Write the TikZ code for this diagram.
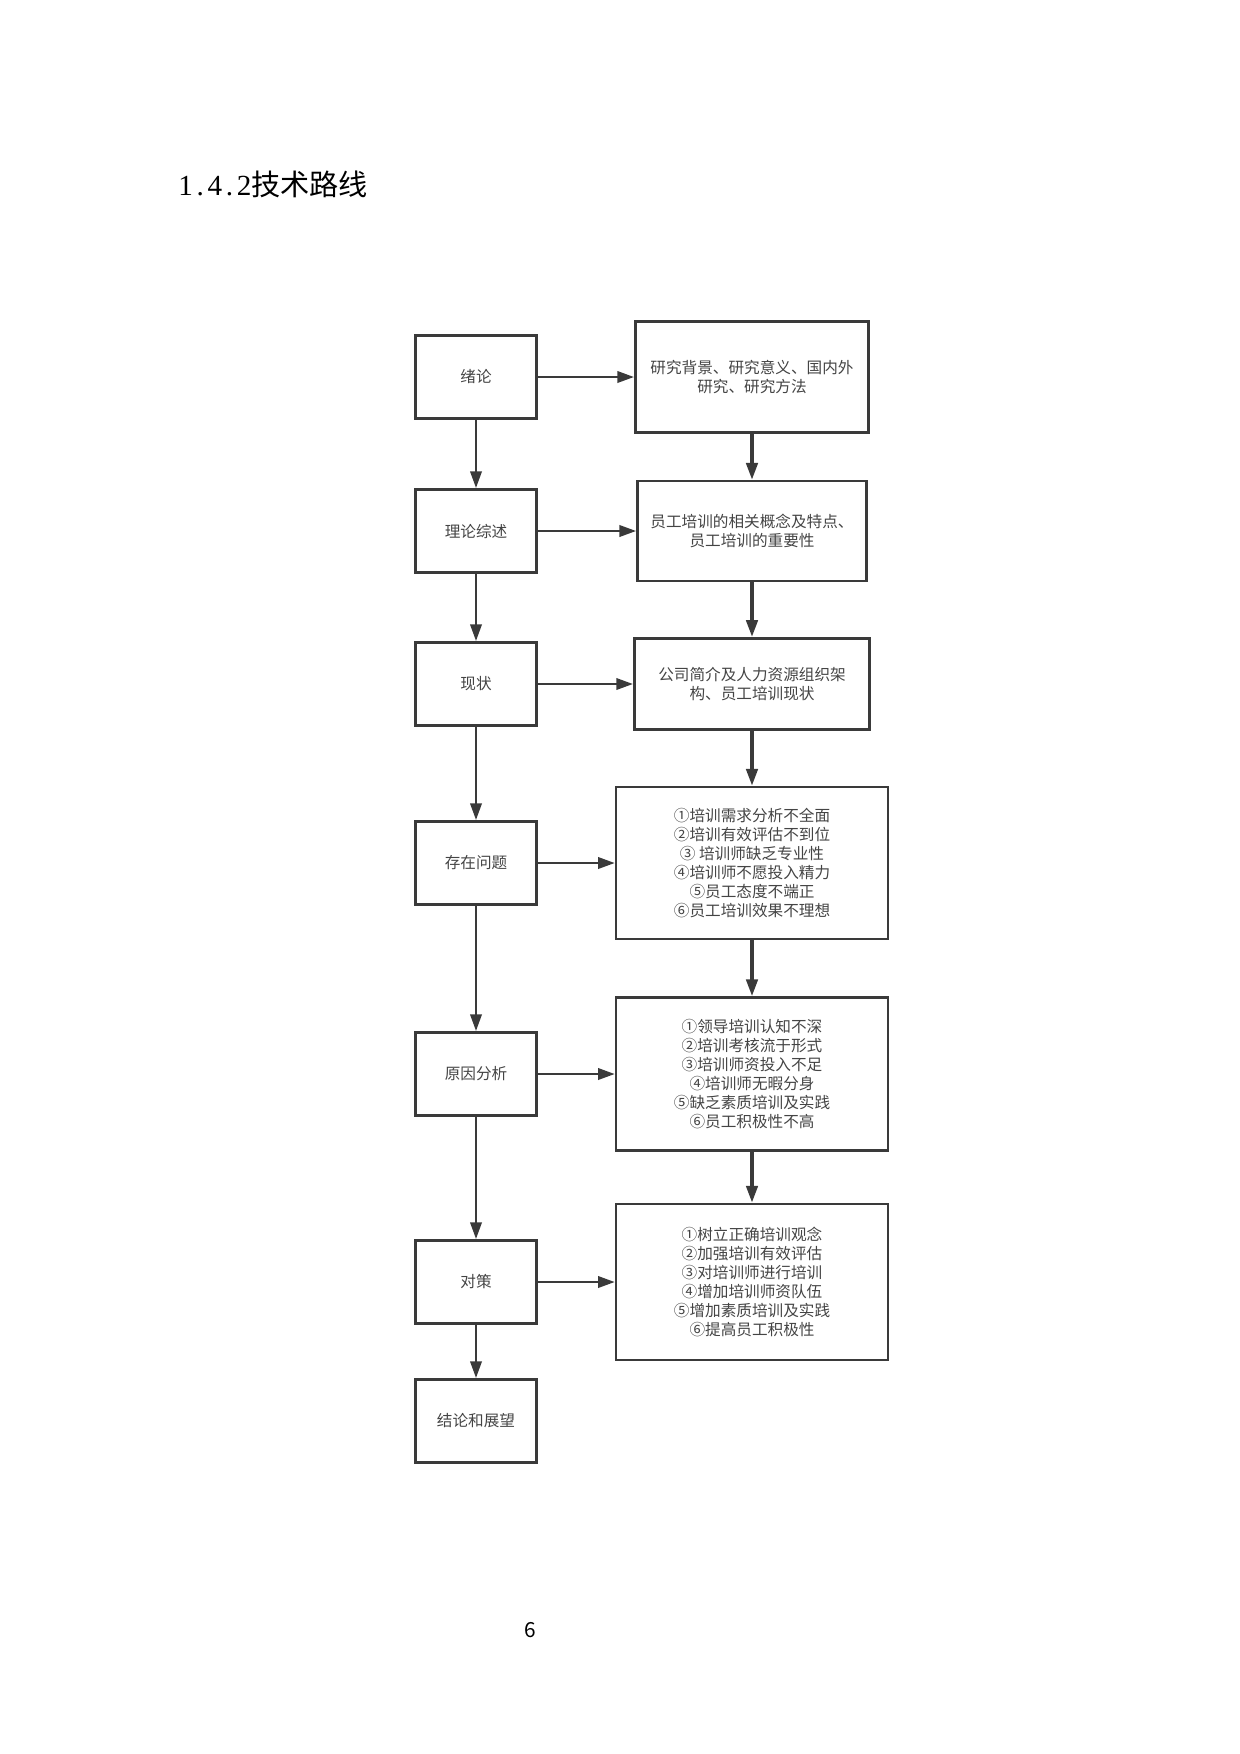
\documentclass[tikz,border=0pt]{standalone}
\usepackage{fontspec}
\setmainfont{Noto Sans CJK SC}
\newfontfamily\numfont{Liberation Serif}
\usetikzlibrary{positioning,arrows.meta}

\definecolor{linegray}{HTML}{3A3A3A}
\definecolor{textgray}{HTML}{444444}

\newcommand{\halfw}[1]{\makebox[7pt]{#1}}

\tikzset{
  stage/.style={draw=linegray, line width=1.3pt, minimum width=58pt, minimum height=40pt,
    inner sep=0pt, text=textgray, font=\fontsize{7.5}{9.1}\selectfont},
  detail/.style={stage, align=center},
  flow/.style={draw=linegray, line width=1.1pt, -{Triangle[length=8pt,width=5.5pt]}},
  mainflow/.style={flow, line width=1.5pt},
}

\begin{document}
\begin{tikzpicture}[x=0.48pt, y=-0.48pt]
    \useasboundingbox (0,0) rectangle (1240,1754);

    \node[anchor=base west, inner sep=0pt, font=\fontsize{14}{16}\selectfont] (title) at (178,195)
        {{\numfont\halfw{1}\halfw{.}\halfw{4}\halfw{.}\halfw{2}}技术路线};

    % left column
    \node[stage] (intro)   at (476,377)  {绪论};
    \node[stage] (theory)  at (476,531)  {理论综述};
    \node[stage] (status)  at (476,684)  {现状};
    \node[stage] (problem) at (476,863)  {存在问题};
    \node[stage] (cause)   at (476,1074) {原因分析};
    \node[stage] (measure) at (476,1282) {对策};
    \node[stage] (concl)   at (476,1421) {结论和展望};

    % right column
    \coordinate (col) at (752,0);
    \node[detail, minimum width=112pt, minimum height=53pt] (introR) at (intro -| col)
        {研究背景、研究意义、国内外\\研究、研究方法};
    \node[detail, minimum width=110pt, minimum height=48pt] (theoryR) at (theory -| col)
        {员工培训的相关概念及特点、\\员工培训的重要性};
    \node[detail, minimum width=113pt, minimum height=44pt] (statusR) at (status -| col)
        {公司简介及人力资源组织架\\构、员工培训现状};
    \node[detail, minimum width=130.5pt, minimum height=73pt] (problemR) at (problem -| col)
        {①培训需求分析不全面\\②培训有效评估不到位\\③ 培训师缺乏专业性\\④培训师不愿投入精力\\⑤员工态度不端正\\⑥员工培训效果不理想};
    \node[detail, minimum width=130.5pt, minimum height=73.5pt] (causeR) at (cause -| col)
        {①领导培训认知不深\\②培训考核流于形式\\③培训师资投入不足\\④培训师无暇分身\\⑤缺乏素质培训及实践\\⑥员工积极性不高};
    \node[detail, minimum width=130.5pt, minimum height=75pt] (measureR) at (measure -| col)
        {①树立正确培训观念\\②加强培训有效评估\\③对培训师进行培训\\④增加培训师资队伍\\⑤增加素质培训及实践\\⑥提高员工积极性};

    \node[font=\fontsize{10}{12}\selectfont] (pagenum) at (530,1630) {6};

    % down the left
    \draw[flow] (intro) -- (theory);
    \draw[flow] (theory) -- (status);
    \draw[flow] (status) -- (problem);
    \draw[flow] (problem) -- (cause);
    \draw[flow] (cause) -- (measure);
    \draw[flow] (measure) -- (concl);

    % across
    \draw[flow] (intro) -- (introR);
    \draw[flow] (theory) -- (theoryR);
    \draw[flow] (status) -- (statusR);
    \draw[flow] (problem) -- (problemR);
    \draw[flow] (cause) -- (causeR);
    \draw[flow] (measure) -- (measureR);

    % down the right
    \draw[mainflow] (introR) -- (theoryR);
    \draw[mainflow] (theoryR) -- (statusR);
    \draw[mainflow] (statusR) -- (problemR);
    \draw[mainflow] (problemR) -- (causeR);
    \draw[mainflow] (causeR) -- (measureR);
\end{tikzpicture}
\end{document}
